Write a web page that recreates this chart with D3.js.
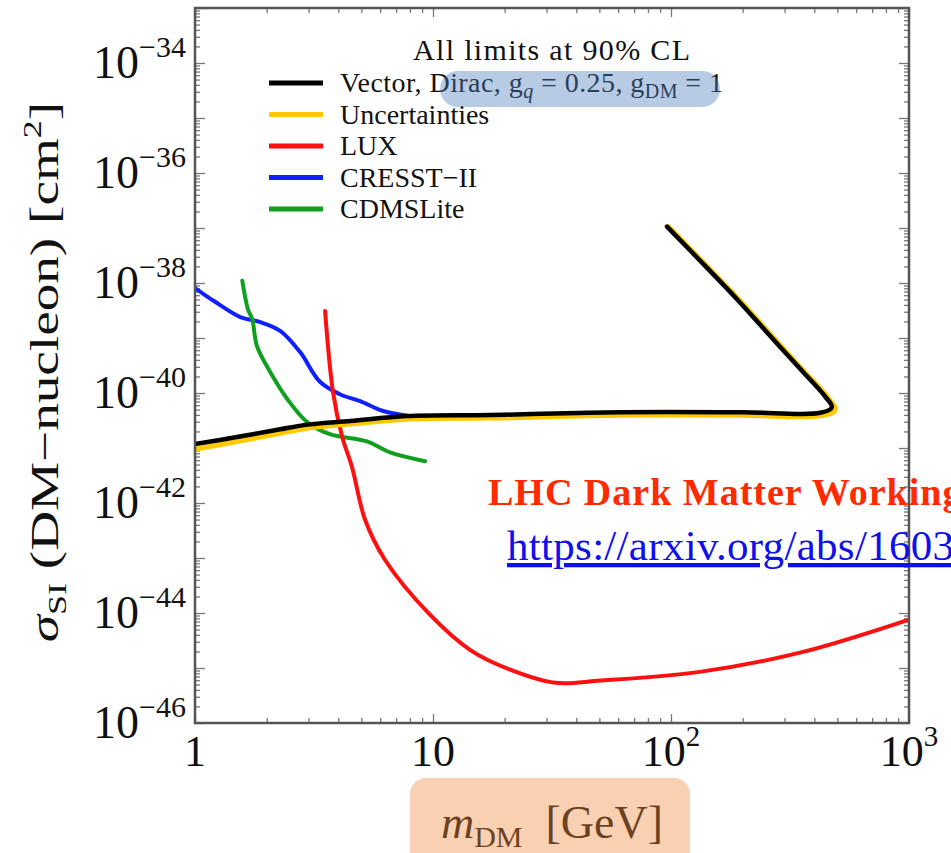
<!DOCTYPE html>
<html>
<head>
<meta charset="utf-8">
<script src="https://cdn.jsdelivr.net/npm/d3@7"></script>
<style>
body { margin: 0; background: #fff; }
svg { display: block; font-family: "Liberation Serif", "Times New Roman", serif; }
</style>
</head>
<body>
<div id="chart"></div>
<script>
// values: DM mass in GeV, SI cross-section in cm^2
var vectorMass = [1, 1.5, 2.28, 3.04, 4.5, 7.78, 17.4, 61, 200, 423, 474, 443.6, 359, 260.6, 189, 145.8, 96.2];
var vectorSigma = [1.175e-41, 1.58e-41, 2.19e-41, 2.69e-41, 3.09e-41, 3.80e-41, 3.98e-41, 4.47e-41, 4.47e-41, 4.37e-41, 5.50e-41, 8.71e-41, 2.40e-40, 1.10e-39, 5.13e-39, 1.66e-38, 1.06e-37];

var uncMass = [1, 1.5, 2.28, 3.04, 4.5, 7.78, 17.4, 61, 200, 423, 490, 452, 365, 265, 192, 148, 97.5];
var uncSigma = [9.5e-42, 1.31e-41, 1.86e-41, 2.34e-41, 2.72e-41, 3.34e-41, 3.5e-41, 3.93e-41, 3.93e-41, 3.85e-41, 4.9e-41, 8.7e-41, 2.4e-40, 1.1e-39, 5.13e-39, 1.66e-38, 1.06e-37];

var luxMass = [3.52, 3.80, 4.15, 4.57, 5.18, 6.28, 9.71, 14.3, 21.1, 32.6, 50.3, 132, 348, 1000];
var luxSigma = [3.1e-39, 1.05e-40, 1.62e-41, 4.47e-42, 5.0e-43, 9.3e-44, 9.3e-45, 2.14e-45, 9.3e-46, 5.37e-46, 5.9e-46, 8.5e-46, 1.9e-45, 7.6e-45];

var cresstMass = [1, 1.21, 1.55, 1.88, 2.28, 2.76, 3.35, 4.06, 4.94, 6.17, 8.0];
var cresstSigma = [8.1e-39, 4.6e-39, 2.4e-39, 1.95e-39, 1.35e-39, 5.6e-40, 1.6e-40, 9.5e-41, 7.1e-41, 4.7e-41, 3.8e-41];

var cdmsMass = [1.58, 1.67, 1.74, 1.82, 2.07, 2.44, 2.96, 3.69, 5.28, 6.6, 9.26];
var cdmsSigma = [1.1e-38, 3.3e-39, 2.2e-39, 7.2e-40, 2.4e-40, 7.8e-41, 2.95e-41, 1.78e-41, 1.32e-41, 8.3e-42, 5.75e-42];

var legendNames = ["Vector", "Uncertainties", "LUX", "CRESST\u2212II", "CDMSLite"];
var legendColors = ["#000000", "#ffc800", "#ff1010", "#1020ff", "#10a020"];

var xTickExp = [0, 1, 2, 3];
var yTickExp = [-46, -44, -42, -40, -38, -36, -34];

var W = 951, H = 853;
var pLeft = 195, pRight = 909, pTop = 8, pBottom = 723;

var svg = d3.select("#chart").append("svg")
    .attr("width", W)
    .attr("height", H);

svg.append("rect").attr("width", W).attr("height", H).attr("fill", "#fff");

var x = d3.scaleLog().domain([1, 1000]).range([pLeft, pRight]);
var y = d3.scaleLog().domain([1e-46, 1e-33]).range([pBottom, pTop]);

svg.append("clipPath").attr("id", "plotclip")
    .append("rect")
    .attr("x", pLeft).attr("y", pTop)
    .attr("width", pRight - pLeft).attr("height", pBottom - pTop);

// tick values
var yMajor = d3.range(-46, -32).map(function(e) { return Math.pow(10, e); });
var yMinor = [];
for (var e = -46; e < -33; e++) {
    for (var k = 2; k <= 9; k++) yMinor.push(k * Math.pow(10, e));
}
var xMajor = [1, 10, 100, 1000];
var xMinor = [];
for (var e2 = 0; e2 < 3; e2++) {
    for (var k2 = 2; k2 <= 9; k2++) xMinor.push(k2 * Math.pow(10, e2));
}

function tickAxis(axis, tr) {
    var g = svg.append("g").attr("transform", tr).call(axis);
    g.select(".domain").remove();
    g.selectAll("line").attr("stroke", "#777").attr("stroke-width", 1.3);
    return g;
}

tickAxis(d3.axisLeft(y).tickValues(yMinor).tickSize(-5).tickFormat(""), "translate(" + pLeft + ",0)");
tickAxis(d3.axisLeft(y).tickValues(yMajor).tickSize(-10).tickFormat(""), "translate(" + pLeft + ",0)");
tickAxis(d3.axisRight(y).tickValues(yMinor).tickSize(-5).tickFormat(""), "translate(" + pRight + ",0)");
tickAxis(d3.axisRight(y).tickValues(yMajor).tickSize(-10).tickFormat(""), "translate(" + pRight + ",0)");
tickAxis(d3.axisBottom(x).tickValues(xMinor).tickSize(-5).tickFormat(""), "translate(0," + pBottom + ")");
tickAxis(d3.axisBottom(x).tickValues(xMajor).tickSize(-9).tickFormat(""), "translate(0," + pBottom + ")");
tickAxis(d3.axisTop(x).tickValues(xMinor).tickSize(-5).tickFormat(""), "translate(0," + pTop + ")");
tickAxis(d3.axisTop(x).tickValues(xMajor).tickSize(-9).tickFormat(""), "translate(0," + pTop + ")");

// curves
var line = d3.line()
    .x(function(d) { return x(d[0]); })
    .y(function(d) { return y(d[1]); })
    .curve(d3.curveCatmullRom.alpha(0.5));

var plot = svg.append("g").attr("clip-path", "url(#plotclip)");

function drawCurve(ms, ss, color, width) {
    plot.append("path")
        .datum(d3.zip(ms, ss))
        .attr("d", line)
        .attr("fill", "none")
        .attr("stroke", color)
        .attr("stroke-width", width)
        .attr("stroke-linejoin", "round")
        .attr("stroke-linecap", "round");
}

drawCurve(cresstMass, cresstSigma, legendColors[3], 4);
drawCurve(cdmsMass, cdmsSigma, legendColors[4], 4);
drawCurve(luxMass, luxSigma, legendColors[2], 4);
drawCurve(uncMass, uncSigma, legendColors[1], 5);
drawCurve(vectorMass, vectorSigma, legendColors[0], 4.5);

// frame
svg.append("rect")
    .attr("x", pLeft).attr("y", pTop)
    .attr("width", pRight - pLeft).attr("height", pBottom - pTop)
    .attr("fill", "none")
    .attr("stroke", "#555")
    .attr("stroke-width", 2.5);

// y tick labels
yTickExp.forEach(function(ex) {
    var t = svg.append("text")
        .attr("x", 186)
        .attr("y", y(Math.pow(10, ex)) + 15)
        .attr("text-anchor", "end")
        .attr("font-size", 46)
        .attr("fill", "#111");
    t.append("tspan").text("10");
    t.append("tspan").attr("font-size", 30).attr("dy", -21).text("\u2212" + (-ex));
});

// x tick labels
xTickExp.forEach(function(ex) {
    var t = svg.append("text")
        .attr("x", x(Math.pow(10, ex)))
        .attr("y", 766)
        .attr("text-anchor", "middle")
        .attr("font-size", 44)
        .attr("fill", "#111");
    if (ex == 0) t.text("1");
    else if (ex == 1) t.text("10");
    else {
        t.append("tspan").text("10");
        t.append("tspan").attr("font-size", 29).attr("dy", -20).text(ex);
    }
});

// y axis title
var yl = svg.append("text")
    .attr("transform", "translate(58,372) rotate(-90) scale(1.38,1)")
    .attr("text-anchor", "middle")
    .attr("font-size", 40)
    .attr("fill", "#111");
yl.append("tspan").attr("font-style", "italic").text("\u03c3");
yl.append("tspan").attr("font-size", 26).attr("dy", 8).text("SI");
yl.append("tspan").attr("dy", -8).text(" (DM\u2212nucleon) [cm");
yl.append("tspan").attr("font-size", 26).attr("dy", -17).text("2");
yl.append("tspan").attr("dy", 17).text("]");

// x axis title
var xl = svg.append("text")
    .attr("x", 552)
    .attr("y", 838)
    .attr("text-anchor", "middle")
    .attr("font-size", 46)
    .attr("fill", "#111");
xl.append("tspan").attr("font-style", "italic").text("m");
xl.append("tspan").attr("font-size", 30).attr("dy", 9).text("DM");
xl.append("tspan").attr("dy", -9).text("\u00a0\u00a0[GeV]");

// legend
svg.append("text")
    .attr("x", 413)
    .attr("y", 60)
    .attr("font-size", 30)
    .attr("textLength", 277)
    .attr("lengthAdjust", "spacing")
    .attr("fill", "#111")
    .text("All limits at 90% CL");

var leg = svg.append("g");
legendNames.forEach(function(name, i) {
    var ly = 83 + i * 31.5;
    leg.append("line")
        .attr("x1", 269).attr("x2", 323)
        .attr("y1", ly).attr("y2", ly)
        .attr("stroke", legendColors[i])
        .attr("stroke-width", 5);
    var t = leg.append("text")
        .attr("x", 340)
        .attr("y", ly + 9)
        .attr("font-size", 28)
        .attr("fill", "#111");
    if (i == 0) {
        t.attr("textLength", 383).attr("lengthAdjust", "spacing");
        t.append("tspan").text("Vector, Dirac, g");
        t.append("tspan").attr("font-size", 20).attr("font-style", "italic").attr("dy", 6).text("q");
        t.append("tspan").attr("dy", -6).text(" = 0.25, g");
        t.append("tspan").attr("font-size", 20).attr("dy", 6).text("DM");
        t.append("tspan").attr("dy", -6).text(" = 1");
    } else {
        t.text(name);
    }
});

// highlight boxes (semi transparent, over the text)
svg.append("rect")
    .attr("x", 440).attr("y", 71)
    .attr("width", 280).attr("height", 36)
    .attr("rx", 18)
    .attr("fill", "#4a7dbd")
    .attr("fill-opacity", 0.4);

svg.append("rect")
    .attr("x", 410).attr("y", 778)
    .attr("width", 280).attr("height", 90)
    .attr("rx", 16)
    .attr("fill", "#f08a3c")
    .attr("fill-opacity", 0.4);

// source note
svg.append("text")
    .attr("x", 488)
    .attr("y", 505)
    .attr("font-size", 38)
    .attr("font-weight", "bold")
    .attr("letter-spacing", 1)
    .attr("fill", "#ff2a00")
    .text("LHC Dark Matter Working Group");

svg.append("text")
    .attr("x", 507)
    .attr("y", 560)
    .attr("font-size", 43)
    .attr("letter-spacing", 0.3)
    .attr("fill", "#1010ee")
    .attr("text-decoration", "underline")
    .text("https://arxiv.org/abs/1603.04156");
</script>
</body>
</html>
